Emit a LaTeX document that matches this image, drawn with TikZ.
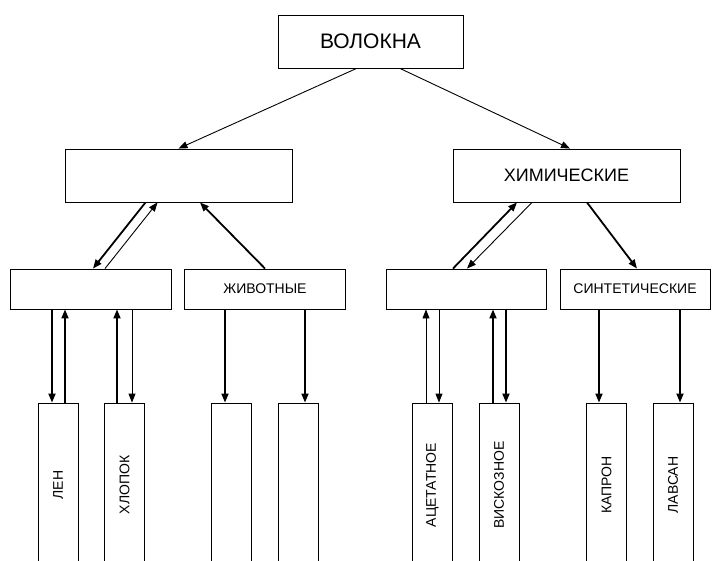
\documentclass[tikz,border=0pt]{standalone}
\usepackage{fontspec}
\setmainfont{Liberation Sans}
\usetikzlibrary{positioning, arrows.meta}

\begin{document}
\begin{tikzpicture}[
x=1pt, y=-1pt,
box/.style={rectangle, draw=black, fill=white, line width=0.9pt, inner sep=0pt},
mid/.style={box, minimum width=227, minimum height=53},
low/.style={box, minimum width=161, minimum height=40, font=\fontsize{14}{14}\selectfont},
fibre/.style={box, minimum width=40, minimum height=164, font=\fontsize{14}{14}\selectfont},
fat/.style={-{Triangle[length=9pt, width=7pt]}, line width=1.8pt},
slim/.style={-{Triangle[length=9pt, width=7pt]}, line width=0.9pt}
]
\useasboundingbox (0,0) rectangle (712,560);
\clip (0,0) rectangle (712,560);
%Nodes
\node[box, minimum width=185, minimum height=53, font=\fontsize{21}{21}\selectfont] (Vol) at (370.5,41.5) {ВОЛОКНА};
\node[mid]   (Nat)   at (178.5,175.5) {};
\node[mid, font=\fontsize{18}{18}\selectfont]   (Chem)  at (566.5,175.5) {ХИМИЧЕСКИЕ};

\node[low]   (Plant) at (91,289)  {};
\node[low]   (Anim)  at (265,289) {ЖИВОТНЫЕ};
\node[low, minimum width=160]   (Art)   at (466,289) {};
\node[low, minimum width=150]   (Syn)   at (635,289) {СИНТЕТИЧЕСКИЕ};

\node[fibre] (Len)   at (58,485)    {\rotatebox{90}{ЛЕН}};
\node[fibre] (Cot)   at (124.5,485) {\rotatebox{90}{ХЛОПОК}};
\node[fibre] (An1)   at (231.5,485) {};
\node[fibre] (An2)   at (298,485)   {};
\node[fibre] (Acet)  at (432.5,485) {\rotatebox{90}{АЦЕТАТНОЕ}};
\node[fibre] (Visc)  at (499,485)   {\rotatebox{90}{ВИСКОЗНОЕ}};
\node[fibre] (Kap)   at (606.5,485) {\rotatebox{90}{КАПРОН}};
\node[fibre] (Lav)   at (673,485)   {\rotatebox{90}{ЛАВСАН}};

%Lines
\draw[slim] ([xshift=-14]Vol.south) -- (Nat.north);
\draw[slim] ([xshift=29.5]Vol.south) -- ([xshift=3.5]Chem.north);

\draw[fat]  ([xshift=-33]Nat.south) -- ([xshift=2]Plant.north);
\draw[slim] ([xshift=14]Plant.north) -- ([xshift=-21]Nat.south);
\draw[fat]  (Anim.north) -- ([xshift=21.5]Nat.south);

\draw[fat]  ([xshift=-13]Art.north) -- ([xshift=-49.5]Chem.south);
\draw[slim] ([xshift=-34.5]Chem.south) -- ([xshift=1]Art.north);
\draw[fat]  ([xshift=20.5]Chem.south) -- ([xshift=2]Syn.north);

\draw[fat]  ([xshift=-6]Len.north |- Plant.south) -- ([xshift=-6]Len.north);
\draw[fat]  ([xshift=7]Len.north) -- ([xshift=7]Len.north |- Plant.south);
\draw[fat]  ([xshift=-7.5]Cot.north) -- ([xshift=-7.5]Cot.north |- Plant.south);
\draw[slim] ([xshift=7.5]Cot.north |- Plant.south) -- ([xshift=7.5]Cot.north);
\draw[fat]  ([xshift=-6.5]An1.north |- Anim.south) -- ([xshift=-6.5]An1.north);
\draw[fat]  ([xshift=7]An2.north |- Anim.south) -- ([xshift=7]An2.north);

\draw[slim] ([xshift=-6.5]Acet.north) -- ([xshift=-6.5]Acet.north |- Art.south);
\draw[slim] ([xshift=6.5]Acet.north |- Art.south) -- ([xshift=6.5]Acet.north);
\draw[fat]  ([xshift=-6]Visc.north) -- ([xshift=-6]Visc.north |- Art.south);
\draw[fat]  ([xshift=7]Visc.north |- Art.south) -- ([xshift=7]Visc.north);
\draw[fat]  ([xshift=-7.5]Kap.north |- Syn.south) -- ([xshift=-7.5]Kap.north);
\draw[fat]  ([xshift=7]Lav.north |- Syn.south) -- ([xshift=7]Lav.north);
\end{tikzpicture}
\end{document}
